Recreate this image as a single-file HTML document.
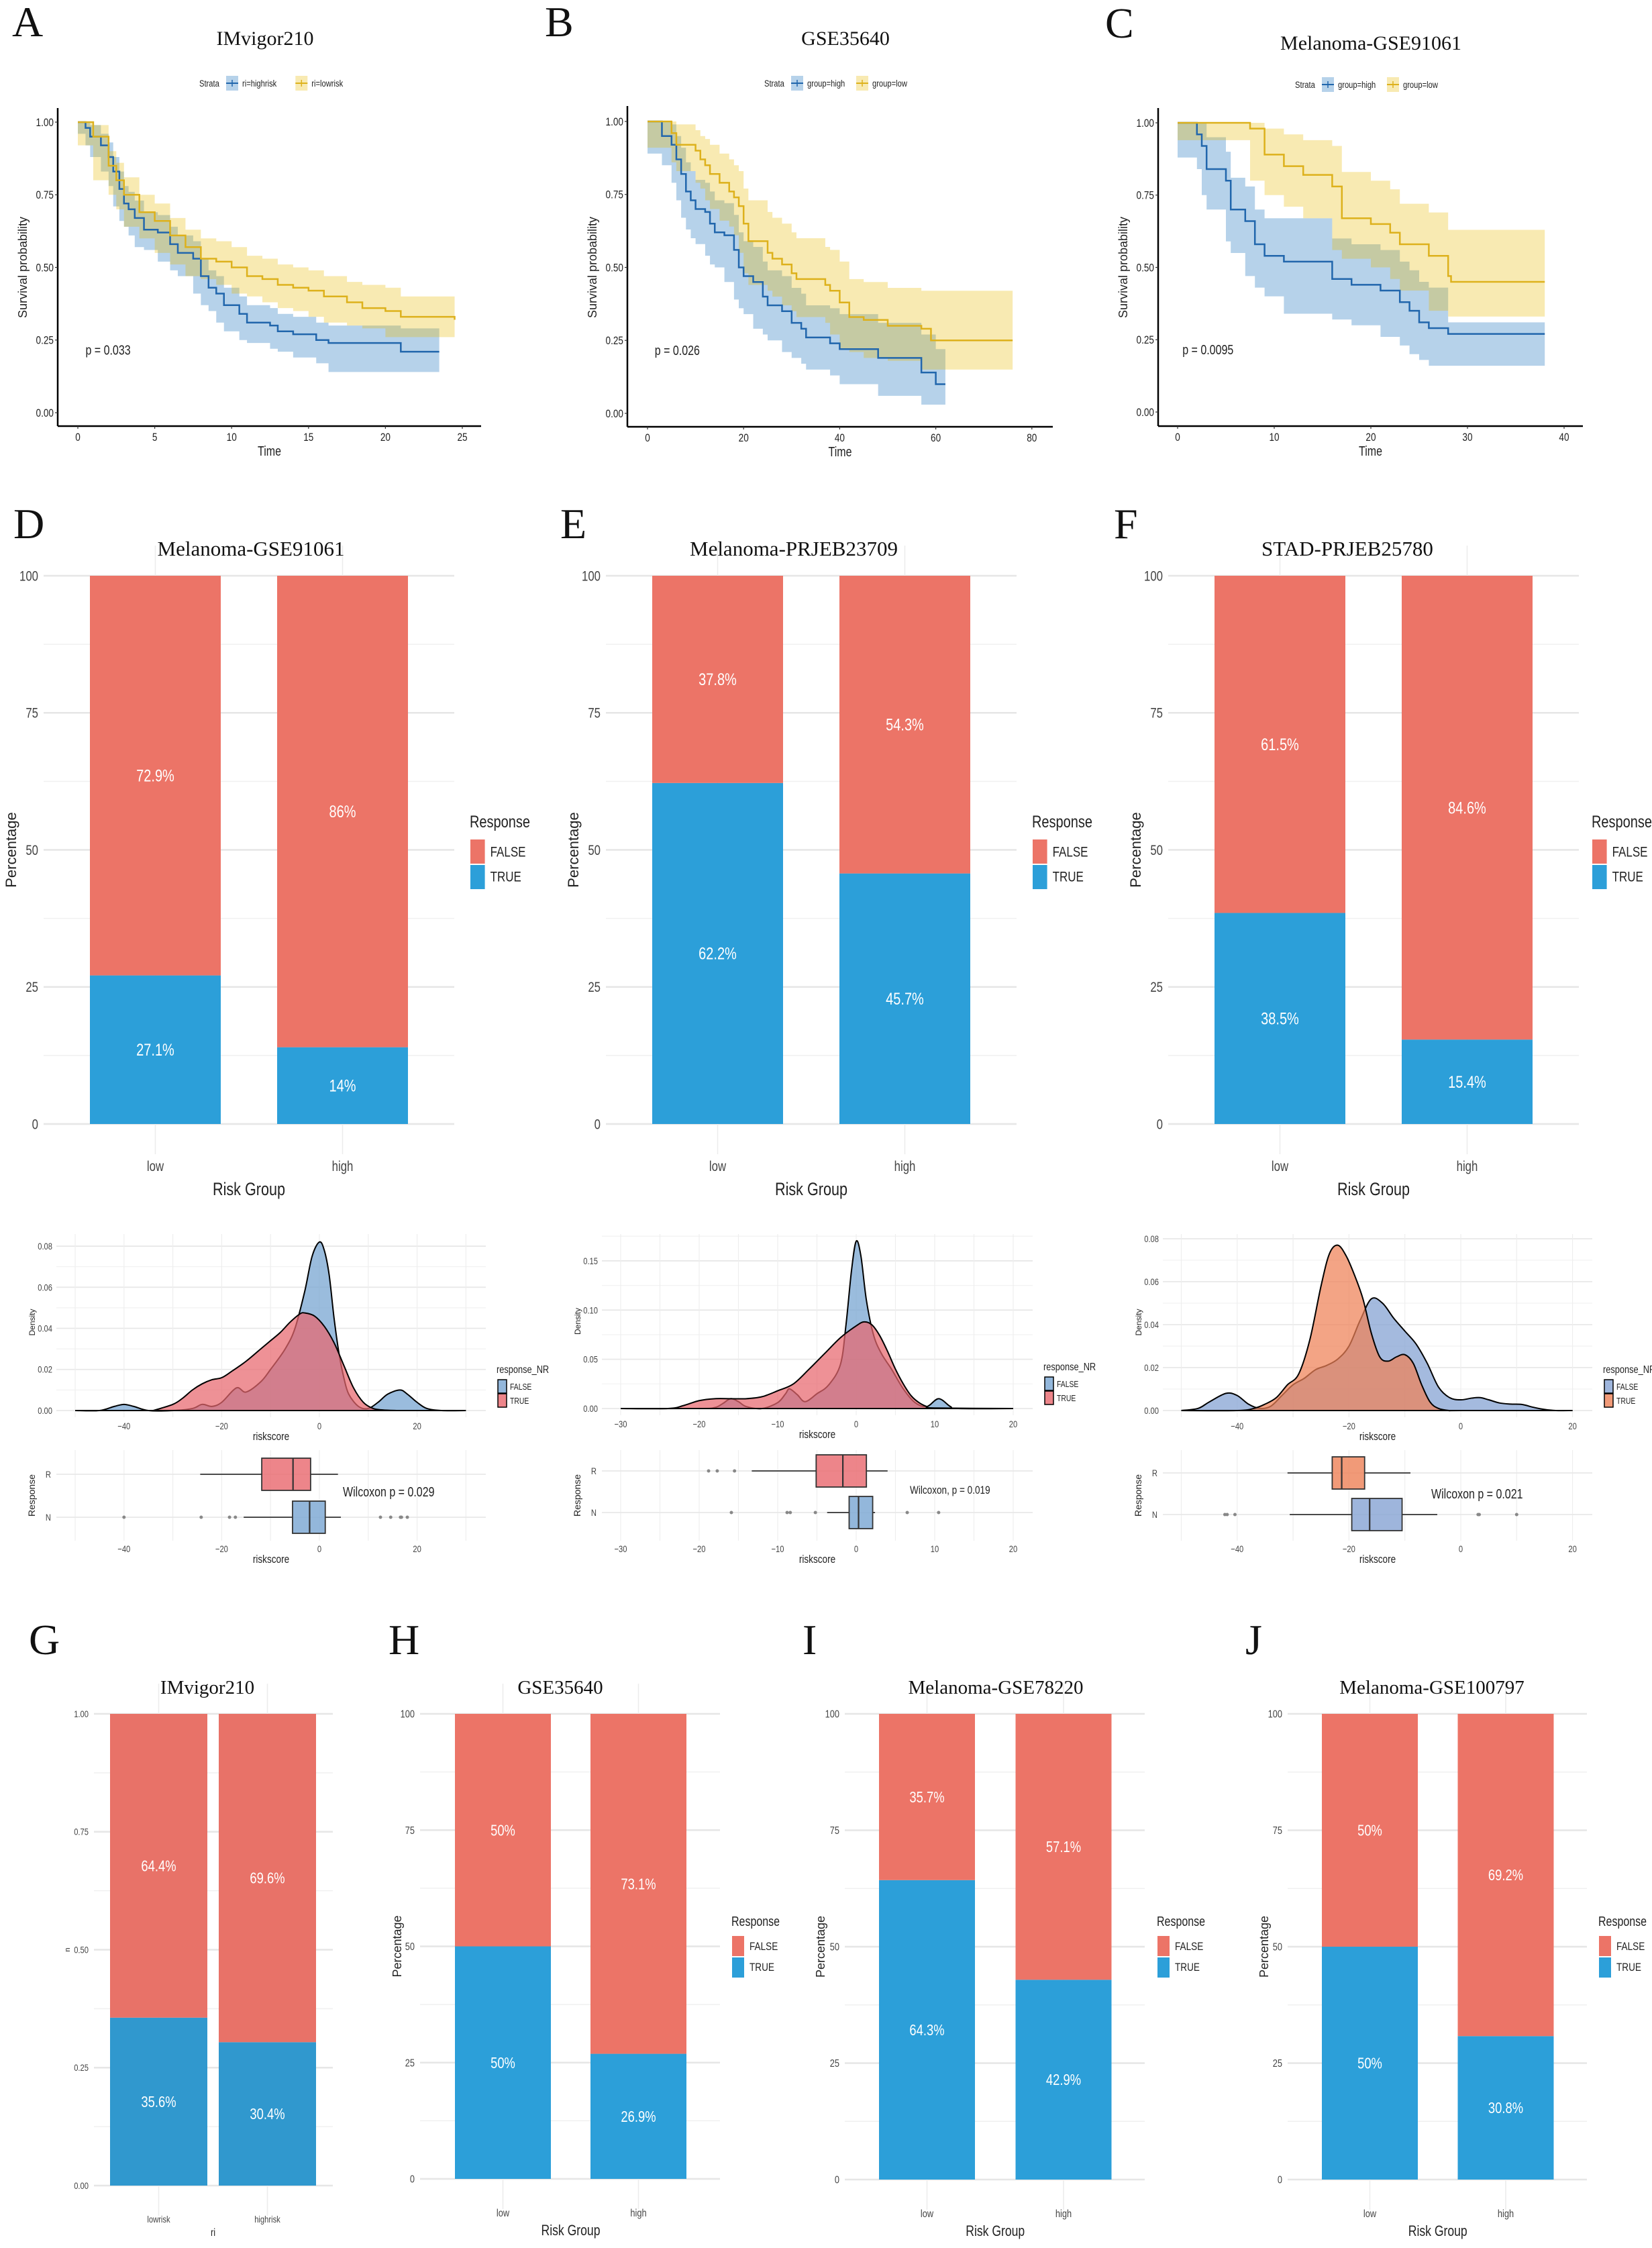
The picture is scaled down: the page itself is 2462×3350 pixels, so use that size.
<!DOCTYPE html>
<html><head><meta charset="utf-8"><title>Risk score panels</title>
<style>
html,body{margin:0;padding:0;background:#fff;}
svg{display:block;font-family:"Liberation Sans",sans-serif;}
</style></head>
<body>
<svg id="fig" xmlns="http://www.w3.org/2000/svg" width="2462" height="3350" viewBox="0 0 2462 3350"></svg>
<script>
// ---------------- KM data ----------------
const kmA_hi_t=[0,0.5,0.8,1.5,2,2.3,2.7,3,3.3,3.7,4.3,5.2,6,6.5,7.5,8,8.5,9,9.5,10.5,11,12.5,13,14,15.5,16.3,21,23.5];
const kmA_hi_s=[1,.98,.95,.92,.88,.83,.77,.72,.70,.67,.63,.62,.58,.55,.53,.47,.43,.41,.37,.34,.31,.30,.28,.27,.25,.24,.21,.21];
const kmA_hi_lo=[1,.96,.92,.88,.83,.78,.71,.66,.64,.61,.57,.56,.52,.49,.47,.41,.37,.35,.31,.28,.25,.24,.22,.21,.19,.17,.14,.14];
const kmA_hi_up=[1,1,.99,.96,.93,.88,.83,.78,.76,.73,.69,.68,.64,.61,.59,.53,.49,.47,.43,.40,.37,.36,.34,.33,.31,.30,.29,.29];
const kmA_lo_t=[0,1,2,2.5,3,4,5,6,7,8,9,10,11,12,13,14,15,16,17.5,18.5,20,21,24.5];
const kmA_lo_s=[1,.95,.85,.80,.75,.69,.66,.61,.57,.53,.52,.50,.47,.46,.44,.43,.42,.40,.38,.36,.35,.33,.32];
const kmA_lo_lo=[1,.92,.80,.75,.70,.64,.60,.55,.51,.47,.46,.44,.41,.40,.38,.36,.35,.33,.31,.30,.29,.26,.26];
const kmA_lo_up=[1,.99,.90,.86,.81,.75,.72,.67,.63,.60,.59,.57,.54,.53,.51,.50,.49,.47,.45,.44,.43,.40,.40];

const kmB_hi_t=[0,3,5,6,7,8,9,10,12,13,14,16,18,19,20,22,24,25,28,30,32,33,38,40,48,57,60,62];
const kmB_hi_s=[1,.95,.92,.87,.82,.76,.73,.70,.69,.65,.62,.61,.56,.50,.47,.45,.40,.37,.35,.31,.29,.26,.24,.22,.19,.14,.10,.10];
const kmB_hi_lo=[1,.89,.85,.79,.73,.67,.63,.60,.58,.54,.51,.50,.45,.39,.36,.34,.29,.27,.25,.21,.19,.17,.15,.13,.10,.06,.03,.03];
const kmB_hi_up=[1,1,.99,.95,.91,.86,.83,.80,.79,.76,.73,.72,.68,.62,.59,.57,.52,.49,.47,.43,.41,.37,.36,.34,.31,.27,.22,.22];
const kmB_lo_t=[0,5,6,10,11,12,13,15,17,18,19,20,21,25,26,28,30,31,37,38,40,42,45,50,57,59,76];
const kmB_lo_s=[1,.96,.92,.90,.87,.85,.82,.79,.76,.74,.71,.65,.59,.55,.53,.51,.48,.46,.44,.42,.38,.33,.32,.30,.29,.25,.25];
const kmB_lo_lo=[1,.91,.86,.83,.79,.77,.73,.70,.66,.64,.61,.55,.48,.44,.42,.40,.37,.35,.33,.31,.27,.22,.21,.19,.18,.15,.15];
const kmB_lo_up=[1,1,.99,.97,.95,.94,.92,.89,.87,.85,.83,.77,.73,.69,.67,.65,.62,.60,.57,.56,.52,.46,.45,.43,.42,.42,.42];

const kmC_hi_t=[0,2,2.5,3,5,5.5,7,8,9,11,16,18,21,23,24,25,26,28,38];
const kmC_hi_s=[1,.96,.92,.84,.80,.70,.66,.58,.54,.52,.46,.44,.42,.38,.35,.31,.29,.27,.27];
const kmC_hi_lo=[1,.88,.84,.75,.70,.59,.55,.47,.43,.40,.34,.32,.30,.26,.23,.20,.18,.16,.16];
const kmC_hi_up=[1,1,1,.95,.90,.81,.78,.70,.67,.67,.60,.58,.56,.52,.49,.45,.43,.31,.31];
const kmC_lo_t=[0,7.5,9,11,13,16,17,20,22,23,26,28,28.3,38];
const kmC_lo_s=[1,.98,.89,.85,.82,.78,.67,.65,.62,.58,.54,.47,.45,.45];
const kmC_lo_lo=[1,.94,.80,.75,.71,.67,.56,.53,.50,.46,.42,.35,.33,.33];
const kmC_lo_up=[1,1,.98,.96,.94,.92,.83,.80,.77,.72,.69,.63,.63,.63];

const kmA_xticks=[0,5,10,15,20,25];
const kmB_xticks=[0,20,40,60,80];
const kmC_xticks=[0,10,20,30,40];
const km_yticks=[0,0.25,0.5,0.75,1];
const km_ylabels=["0.00","0.25","0.50","0.75","1.00"];

// ---------------- Bar data (percent TRUE / FALSE) ----------------
const barCats=["low","high"];
const barD_true=[27.1,14];   const barD_false=[72.9,86];
const barE_true=[62.2,45.7]; const barE_false=[37.8,54.3];
const barF_true=[38.5,15.4]; const barF_false=[61.5,84.6];
const barG_cats=["lowrisk","highrisk"];
const barG_true=[35.6,30.4]; const barG_false=[64.4,69.6];
const barH_true=[50,26.9];   const barH_false=[50,73.1];
const barI_true=[64.3,42.9]; const barI_false=[35.7,57.1];
const barJ_true=[50,30.8];   const barJ_false=[50,69.2];
const bar_yticks=[0,25,50,75,100];
const barG_ylabels=["0.00","0.25","0.50","0.75","1.00"];

// ---------------- Density data ----------------
const denD_false_x=[-50,-45,-42,-40,-38,-35,-30,-26,-24,-22,-20,-17,-15,-12,-10,-7,-5,-3,-1.5,0,1,2,3,4,5,6,8,10,12,14,16.5,18,20,22,25,30];
const denD_false_y=[0,0,.002,.003,.002,0,0,.001,.003,.002,.004,.011,.009,.014,.020,.030,.040,.058,.075,.082,.078,.066,.045,.028,.016,.008,.002,.001,.004,.008,.010,.008,.004,.001,0,0];
const denD_true_x=[-34,-30,-28,-26,-24,-22,-20,-18,-15,-12,-10,-8,-6,-4,-3,-1,1,3,5,7,9,11,13,16];
const denD_true_y=[0,.003,.006,.010,.013,.015,.016,.019,.024,.030,.034,.038,.043,.047,.0475,.046,.041,.033,.022,.011,.004,.001,.0003,0];
const denE_false_x=[-30,-20,-18,-17,-16,-15,-14,-12,-10,-9,-8.5,-7.5,-6.5,-5,-3.5,-2,-1.3,-0.6,0,0.6,1.3,2.2,3.2,4.5,6,7.5,9,10.5,12,13,20];
const denE_false_y=[0,0,.001,.005,.010,.007,.002,0,.006,.015,.020,.014,.007,.015,.024,.045,.085,.14,.17,.155,.11,.075,.056,.040,.020,.006,.002,.010,.002,0,0];
const denE_true_x=[-30,-24,-22,-20,-18,-16,-14,-12,-10,-8,-6,-4,-2,0,1,2,3,4,5,6,7,8,9,10,20];
const denE_true_y=[0,0,.003,.008,.010,.010,.010,.012,.018,.025,.040,.056,.072,.084,.088,.085,.074,.058,.040,.025,.013,.006,.002,.0005,0];
const denF_false_x=[-50,-47,-45,-42,-40,-38,-36,-34,-32,-30,-28,-26,-24,-22,-20,-18,-16,-14,-12,-10,-8,-6,-4,-2,0,2,3.5,5,7,9,11,13,15,17,20];
const denF_false_y=[0,.001,.004,.008,.007,.003,.001,.002,.007,.012,.015,.019,.021,.024,.030,.042,.052,.050,.043,.037,.031,.022,.011,.006,.005,.0058,.006,.005,.0035,.003,.0028,.0015,.0005,0,0];
const denF_true_x=[-50,-40,-37,-35,-33,-31,-29,-27,-25,-23.5,-22,-20.5,-19,-17.5,-16,-14.5,-13,-11.5,-10,-8.5,-7,-5.5,-4,-2,0,20];
const denF_true_y=[0,0,.001,.003,.006,.012,.017,.033,.058,.073,.077,.072,.063,.052,.036,.025,.023,.025,.026,.022,.012,.004,.001,0,0,0];

// ---------------- Box data [whiskerLo, q1, median, q3, whiskerHi] ----------------
const boxD_R=[-24.4,-11.8,-5.4,-1.8,3.8];   const boxD_N=[-15.5,-5.5,-2.0,1.2,4.4];
const boxD_R_out=[];                         const boxD_N_out=[-40,-24.2,-18.4,-17.2,12.5,14.6,16.6,16.8,18];
const boxE_R=[-13.3,-5.1,-1.7,1.3,4.0];     const boxE_N=[-3.7,-0.9,0.3,2.1,2.4];
const boxE_R_out=[-18.8,-17.7,-15.5];        const boxE_N_out=[-15.9,-8.8,-8.4,-5.2,6.5,10.5];
const boxF_R=[-31,-23,-21.3,-17.2,-9];       const boxF_N=[-30.6,-19.5,-16.3,-10.5,-4.2];
const boxF_R_out=[];                         const boxF_N_out=[-42.2,-41.8,-40.4,3.1,3.3,10];

// ---------------- helpers ----------------
const NS="http://www.w3.org/2000/svg";
const svg=document.getElementById('fig');
function mk(tag,attrs,name,parent){
  const e=document.createElementNS(NS,tag);
  for(const k in attrs){e.setAttribute(k,attrs[k]);}
  
  
  (parent||svg).appendChild(e);
  return e;
}
function txt(x,y,s,size,name,opt){
  opt=opt||{};
  const a={x:x,y:y,'font-size':size,fill:opt.fill||'#222','text-anchor':opt.anchor||'start'};
  if(opt.serif){a['font-family']='"Liberation Serif",serif';}
  let sx=opt.sx;
  if(sx===undefined){sx=(opt.serif||opt.rot)?1:0.8;}
  if(opt.rot){a.transform='rotate(-90 '+x+' '+y+')';}
  else if(sx!==1){a.transform='translate('+x+' '+y+') scale('+sx+' 1) translate('+(-x)+' '+(-y)+')';}
  const t=mk('text',a,name,opt.parent);
  t.textContent=s;
  return t;
}
function smooth(pts){
  let d='M'+pts[0][0]+','+pts[0][1];
  for(let i=0;i<pts.length-1;i++){
    const p0=pts[i-1]||pts[i],p1=pts[i],p2=pts[i+1],p3=pts[i+2]||p2;
    const c1x=p1[0]+(p2[0]-p0[0])/6,c1y=p1[1]+(p2[1]-p0[1])/6;
    const c2x=p2[0]-(p3[0]-p1[0])/6,c2y=p2[1]-(p3[1]-p1[1])/6;
    d+=' C'+c1x+','+c1y+' '+c2x+','+c2y+' '+p2[0]+','+p2[1];
  }
  return d;
}

// ---------------- panel letters ----------------
const letters=[['A',18,54],['B',812,54],['C',1647,56],['D',20,802],['E',835,802],['F',1660,802],['G',43,2465],['H',579,2465],['I',1196,2465],['J',1856,2465]];
letters.forEach(l=>{txt(l[1],l[2],l[0],64,'panel-letter-'+l[0].toLowerCase(),{serif:true,fill:'#111'});});

// ---------------- KM panels ----------------
function kmPanel(cfg){
  const g=mk('g',{},'km-panel-'+cfg.id);
  const X=v=>cfg.x0+v*cfg.kx;
  const Y=v=>cfg.yb+(cfg.yt-cfg.yb)*v;
  txt(cfg.titleX,cfg.titleY,cfg.title,30,'chart-title',{serif:true,anchor:'middle',parent:g,fill:'#111'});
  const ly=cfg.legY;
  txt(cfg.legX,ly+5,'Strata',14,'legend-title',{parent:g});
  const cols=[['#2166AC','rgba(46,126,196,0.35)'],['#DDB11C','rgba(231,184,0,0.3)']];
  let lx=cfg.legX+40;
  cfg.legLabels.forEach((lab,i)=>{
    mk('rect',{x:lx,y:ly-11,width:18,height:22,fill:cols[i][1]},'legend-key-'+i,g);
    mk('line',{x1:lx,x2:lx+18,y1:ly,y2:ly,stroke:cols[i][0],'stroke-width':2},'legend-key-line-'+i,g);
    mk('line',{x1:lx+9,x2:lx+9,y1:ly-5,y2:ly+5,stroke:cols[i][0],'stroke-width':1.5},'legend-key-tick-'+i,g);
    txt(lx+24,ly+5,lab,14,'legend-label-'+i,{parent:g});
    lx+=24+lab.length*6.3+10;
  });
  cfg.series.forEach((s,si)=>{
    let d='M'+X(s.t[0])+','+Y(s.up[0]);
    for(let i=1;i<s.t.length;i++){d+=' H'+X(s.t[i])+' V'+Y(s.up[i]);}
    for(let i=s.t.length-1;i>=1;i--){d+=' V'+Y(s.lo[i])+' H'+X(s.t[i-1]);}
    d+=' V'+Y(s.lo[0])+' Z';
    mk('path',{d:d,fill:cols[si][1],stroke:'none'},'ci-band-'+s.name,g);
  });
  cfg.series.forEach((s,si)=>{
    let d='M'+X(s.t[0])+','+Y(s.s[0]);
    for(let i=1;i<s.t.length;i++){d+=' H'+X(s.t[i])+' V'+Y(s.s[i]);}
    mk('path',{d:d,fill:'none',stroke:cols[si][0],'stroke-width':2.5},'survival-curve-'+s.name,g);
  });
  mk('line',{x1:cfg.ax,x2:cfg.ax,y1:cfg.axTop,y2:cfg.ay,stroke:'#000','stroke-width':2.5},'y-axis-line',g);
  mk('line',{x1:cfg.ax,x2:cfg.axRight,y1:cfg.ay,y2:cfg.ay,stroke:'#000','stroke-width':2.5},'x-axis-line',g);
  km_yticks.forEach((v,i)=>{
    mk('line',{x1:cfg.ax-4,x2:cfg.ax,y1:Y(v),y2:Y(v),stroke:'#333','stroke-width':1.2},'y-tick',g);
    txt(cfg.ax-6,Y(v)+6,km_ylabels[i],17,'y-tick-label',{anchor:'end',parent:g});
  });
  cfg.xticks.forEach(v=>{
    mk('line',{x1:X(v),x2:X(v),y1:cfg.ay,y2:cfg.ay+4,stroke:'#333','stroke-width':1.2},'x-tick',g);
    txt(X(v),cfg.ay+22,String(v),17,'x-tick-label',{anchor:'middle',parent:g});
  });
  txt((cfg.ax+cfg.axRight)/2,cfg.ay+44,'Time',20,'x-axis-title',{anchor:'middle',parent:g});
  txt(cfg.ax-46,(cfg.yt+cfg.yb)/2,'Survival probability',18,'y-axis-title',{anchor:'middle',rot:true,parent:g});
  txt(X(cfg.pX),Y(0.2),cfg.p,20,'p-value-label',{parent:g});
}
kmPanel({id:'a',title:'IMvigor210',titleX:395,titleY:67,legX:297,legY:124,legLabels:['ri=highrisk','ri=lowrisk'],
  x0:116,kx:22.92,yt:182,yb:615,ax:86,ay:635,axTop:161,axRight:717,xticks:kmA_xticks,p:'p = 0.033',pX:0.5,
  series:[{name:'highrisk',t:kmA_hi_t,s:kmA_hi_s,lo:kmA_hi_lo,up:kmA_hi_up},{name:'lowrisk',t:kmA_lo_t,s:kmA_lo_s,lo:kmA_lo_lo,up:kmA_lo_up}]});
kmPanel({id:'b',title:'GSE35640',titleX:1260,titleY:67,legX:1139,legY:124,legLabels:['group=high','group=low'],
  x0:965,kx:7.16,yt:181,yb:616,ax:935,ay:636,axTop:158,axRight:1569,xticks:kmB_xticks,p:'p = 0.026',pX:1.5,
  series:[{name:'high',t:kmB_hi_t,s:kmB_hi_s,lo:kmB_hi_lo,up:kmB_hi_up},{name:'low',t:kmB_lo_t,s:kmB_lo_s,lo:kmB_lo_lo,up:kmB_lo_up}]});
kmPanel({id:'c',title:'Melanoma-GSE91061',titleX:2043,titleY:74,legX:1930,legY:126,legLabels:['group=high','group=low'],
  x0:1755,kx:14.4,yt:183,yb:614,ax:1726,ay:635,axTop:161,axRight:2359,xticks:kmC_xticks,p:'p = 0.0095',pX:0.5,
  series:[{name:'high',t:kmC_hi_t,s:kmC_hi_s,lo:kmC_hi_lo,up:kmC_hi_up},{name:'low',t:kmC_lo_t,s:kmC_lo_s,lo:kmC_lo_lo,up:kmC_lo_up}]});

// ---------------- Bar panels ----------------
const RED='#EC7467',BLUE='#2C9FD9';
function barPanel(cfg){
  const g=mk('g',{},'bar-panel-'+cfg.id);
  const Y=v=>cfg.yb+(cfg.yt-cfg.yb)*v/100;
  const bw=cfg.bw, fs=cfg.fs;
  [12.5,37.5,62.5,87.5].forEach(v=>mk('line',{x1:cfg.gx1,x2:cfg.gx2,y1:Y(v),y2:Y(v),stroke:'#f0f0f0','stroke-width':1.5},'grid-minor',g));
  bar_yticks.forEach(v=>mk('line',{x1:cfg.gx1,x2:cfg.gx2,y1:Y(v),y2:Y(v),stroke:'#e6e6e6','stroke-width':2.5},'grid-major',g));
  cfg.cx.forEach(c=>mk('line',{x1:c,x2:c,y1:cfg.yt-45,y2:cfg.yb+45,stroke:'#ececec','stroke-width':1.5},'grid-vertical',g));
  txt(cfg.titleX,cfg.yt-30,cfg.title,cfg.tfs,'chart-title',{serif:true,anchor:'middle',parent:g,fill:'#111'});
  cfg.cats.forEach((cat,i)=>{
    const c=cfg.cx[i],t=cfg.tr[i],f=cfg.fa[i];
    mk('rect',{x:c-bw/2,y:Y(t),width:bw,height:Y(0)-Y(t),fill:cfg.blue||BLUE},'bar-true-'+cat,g);
    mk('rect',{x:c-bw/2,y:Y(100),width:bw,height:Y(t)-Y(100),fill:cfg.red||RED},'bar-false-'+cat,g);
    txt(c,Y(t/2)+fs*0.35,t+'%',fs,'bar-label-true-'+cat,{anchor:'middle',fill:'#fff',parent:g});
    txt(c,Y(t+f/2)+fs*0.35,f+'%',fs,'bar-label-false-'+cat,{anchor:'middle',fill:'#fff',parent:g});
    txt(c,cfg.yb+cfg.catDy,cat,cfg.tk,'x-tick-label',{anchor:'middle',parent:g,fill:'#444'});
  });
  bar_yticks.forEach((v,i)=>txt(cfg.gx1-8,Y(v)+cfg.tk*0.35,cfg.ylabels?cfg.ylabels[i]:String(v),cfg.tk,'y-tick-label',{anchor:'end',parent:g,fill:'#444'}));
  txt((cfg.cx[0]+cfg.cx[1])/2,cfg.yb+cfg.catDy+cfg.xtDy,cfg.xtitle,cfg.xtfs,'x-axis-title',{anchor:'middle',parent:g});
  txt(cfg.ytX,(cfg.yt+cfg.yb)/2,cfg.ytitle,cfg.ytfs,'y-axis-title',{anchor:'middle',rot:true,parent:g});
  if(cfg.legX){
    const lg=mk('g',{},'legend',g);
    const ly=cfg.legY;
    txt(cfg.legX,ly,'Response',cfg.lfs,'legend-title',{parent:lg});
    mk('rect',{x:cfg.legX+1,y:ly+cfg.lk*0.5,width:cfg.lk*0.6,height:cfg.lk,fill:RED},'legend-key-false',lg);
    mk('rect',{x:cfg.legX+1,y:ly+cfg.lk*1.5+2,width:cfg.lk*0.6,height:cfg.lk,fill:BLUE},'legend-key-true',lg);
    txt(cfg.legX+cfg.lk*0.6+9,ly+cfg.lk*1.0+cfg.lfs*0.3,'FALSE',cfg.lfs*0.85,'legend-label-false',{parent:lg});
    txt(cfg.legX+cfg.lk*0.6+9,ly+cfg.lk*2.0+cfg.lfs*0.35,'TRUE',cfg.lfs*0.85,'legend-label-true',{parent:lg});
  }
}
const midBase={yt:858,yb:1675,bw:195,fs:25,tfs:31,tk:21,catDy:70,xtDy:36,xtitle:'Risk Group',xtfs:27,ytitle:'Percentage',ytfs:22,lfs:25,lk:36,cats:barCats,legY:1233};
barPanel(Object.assign({},midBase,{id:'d',title:'Melanoma-GSE91061',titleX:374,cx:[231.5,510.5],gx1:65,gx2:677,ytX:24,legX:700,tr:barD_true,fa:barD_false}));
barPanel(Object.assign({},midBase,{id:'e',title:'Melanoma-PRJEB23709',titleX:1183,cx:[1069.5,1348.5],gx1:903,gx2:1515,ytX:862,legX:1538,tr:barE_true,fa:barE_false}));
barPanel(Object.assign({},midBase,{id:'f',title:'STAD-PRJEB25780',titleX:2008,cx:[1907.5,2186.5],gx1:1741,gx2:2353,ytX:1700,legX:2372,tr:barF_true,fa:barF_false}));
const botBase={yt:2554,yb:3250,bw:143,fs:23,tfs:29,tk:16,catDy:56,xtDy:28,xtitle:'Risk Group',xtfs:22,ytitle:'Percentage',ytfs:18,lfs:20,lk:30,cats:barCats,legY:2870};
barPanel(Object.assign({},botBase,{id:'g',title:'IMvigor210',titleX:309,yb:3257,bw:145,cx:[236.5,398.5],gx1:140,gx2:496,ytX:104,ytitle:'n',ytfs:11,xtitle:'ri',xtfs:16,tk:14,catDy:55,xtDy:20,ylabels:barG_ylabels,cats:barG_cats,tr:barG_true,fa:barG_false,red:'#E87268',blue:'#3098CE'}));
barPanel(Object.assign({},botBase,{id:'h',title:'GSE35640',titleX:835,yb:3247,cx:[749.5,951.5],gx1:626,gx2:1073,ytX:598,legX:1090,tr:barH_true,fa:barH_false}));
barPanel(Object.assign({},botBase,{id:'i',title:'Melanoma-GSE78220',titleX:1484,yb:3248,cx:[1381.5,1585],gx1:1259,gx2:1706,ytX:1229,legX:1724,tr:barI_true,fa:barI_false}));
barPanel(Object.assign({},botBase,{id:'j',title:'Melanoma-GSE100797',titleX:2134,yb:3248,cx:[2041.5,2244],gx1:1919,gx2:2365,ytX:1890,legX:2382,tr:barJ_true,fa:barJ_false}));

// ---------------- Density + box panels ----------------
function densPanel(cfg){
  const g=mk('g',{},'density-panel-'+cfg.id);
  const X=v=>cfg.x0+v*cfg.kx;
  const Y=v=>cfg.y0-v*cfg.ky;
  cfg.yminor.forEach(v=>mk('line',{x1:cfg.gx1,x2:cfg.gx2,y1:Y(v),y2:Y(v),stroke:'#f2f2f2','stroke-width':1.2},'grid-minor',g));
  cfg.yticks.forEach(v=>mk('line',{x1:cfg.gx1,x2:cfg.gx2,y1:Y(v),y2:Y(v),stroke:'#e8e8e8','stroke-width':1.8},'grid-major',g));
  cfg.xgrid.forEach(v=>{
    mk('line',{x1:X(v),x2:X(v),y1:cfg.gTop,y2:cfg.y0+10,stroke:'#eeeeee','stroke-width':1.2},'grid-vertical',g);
    mk('line',{x1:X(v),x2:X(v),y1:cfg.bTop,y2:cfg.bBot,stroke:'#eeeeee','stroke-width':1.2},'grid-vertical-box',g);
  });
  const fPts=cfg.fx.map((v,i)=>[X(v),Y(cfg.fy[i])]);
  const tPts=cfg.tx.map((v,i)=>[X(v),Y(cfg.ty[i])]);
  const fd=smooth(fPts), td=smooth(tPts);
  mk('path',{d:fd+' L'+X(cfg.fx[cfg.fx.length-1])+','+Y(0)+' L'+X(cfg.fx[0])+','+Y(0)+' Z',fill:cfg.fcol,'fill-opacity':0.75,stroke:'#000','stroke-width':2},'density-false',g);
  mk('path',{d:td+' L'+X(cfg.tx[cfg.tx.length-1])+','+Y(0)+' L'+X(cfg.tx[0])+','+Y(0)+' Z',fill:cfg.tcol,'fill-opacity':0.72,stroke:'#000','stroke-width':2},'density-true',g);
  cfg.yticks.forEach((v,i)=>txt(cfg.gx1-6,Y(v)+5,cfg.ylabels[i],14,'y-tick-label',{anchor:'end',parent:g,fill:'#444'}));
  cfg.xticks.forEach(v=>{
    txt(X(v),cfg.y0+28,String(v).replace('-','−'),14,'x-tick-label',{anchor:'middle',parent:g,fill:'#444'});
    txt(X(v),cfg.bBot+17,String(v).replace('-','−'),14,'x-tick-label-box',{anchor:'middle',parent:g,fill:'#444'});
  });
  txt((cfg.gx1+cfg.gx2)/2,cfg.y0+44,'riskscore',17,'x-axis-title',{anchor:'middle',parent:g});
  txt((cfg.gx1+cfg.gx2)/2,cfg.bBot+33,'riskscore',17,'x-axis-title-box',{anchor:'middle',parent:g});
  txt(cfg.gx1-32,(cfg.gTop+cfg.y0)/2,'Density',12,'y-axis-title',{anchor:'middle',rot:true,parent:g});
  txt(cfg.gx1-32,(cfg.bTop+cfg.bBot)/2,'Response',14,'y-axis-title-box',{anchor:'middle',rot:true,parent:g});
  const lx=cfg.legX,ly=cfg.legY;
  txt(lx,ly,'response_NR',16,'legend-title',{parent:g});
  mk('rect',{x:lx+2,y:ly+10,width:13,height:20,fill:cfg.fcol,'fill-opacity':0.8,stroke:'#000','stroke-width':1.5},'legend-key-false',g);
  mk('rect',{x:lx+2,y:ly+31,width:13,height:20,fill:cfg.tcol,'fill-opacity':0.8,stroke:'#000','stroke-width':1.5},'legend-key-true',g);
  txt(lx+20,ly+25,'FALSE',13,'legend-label-false',{parent:g});
  txt(lx+20,ly+46,'TRUE',13,'legend-label-true',{parent:g});
  [['R',cfg.rY,cfg.boxR,cfg.outR,cfg.tcol],['N',cfg.nY,cfg.boxN,cfg.outN,cfg.fcol]].forEach(r=>{
    const y=r[1],b=r[2];
    mk('line',{x1:cfg.gx1,x2:cfg.gx2,y1:y,y2:y,stroke:'#e8e8e8','stroke-width':1.8},'grid-row-'+r[0],g);
    txt(cfg.gx1-8,y+5,r[0],14,'y-tick-label-box',{anchor:'end',parent:g,fill:'#444'});
    mk('line',{x1:X(b[0]),x2:X(b[1]),y1:y,y2:y,stroke:'#333','stroke-width':1.8},'whisker-low-'+r[0],g);
    mk('line',{x1:X(b[3]),x2:X(b[4]),y1:y,y2:y,stroke:'#333','stroke-width':1.8},'whisker-high-'+r[0],g);
    mk('rect',{x:X(b[1]),y:y-24,width:X(b[3])-X(b[1]),height:48,fill:r[4],'fill-opacity':0.8,stroke:'#333','stroke-width':1.8},'box-'+r[0],g);
    mk('line',{x1:X(b[2]),x2:X(b[2]),y1:y-24,y2:y+24,stroke:'#333','stroke-width':2.2},'median-'+r[0],g);
    r[3].forEach(o=>mk('circle',{cx:X(o),cy:y,r:2.5,fill:'#888'},'outlier-'+r[0],g));
  });
  txt(cfg.wX,cfg.wY,cfg.wText,cfg.wfs,'wilcoxon-label',{parent:g});
}
densPanel({id:'d',x0:476,kx:7.28,y0:2102,ky:3062,gx1:84,gx2:724,gTop:1839,bTop:2161,bBot:2296,
  yticks:[0,.02,.04,.06,.08],ylabels:['0.00','0.02','0.04','0.06','0.08'],yminor:[.01,.03,.05,.07],
  xticks:[-40,-20,0,20],xgrid:[-50,-40,-30,-20,-10,0,10,20,30],
  fx:denD_false_x,fy:denD_false_y,tx:denD_true_x,ty:denD_true_y,fcol:'#78A5D2',tcol:'#E8676D',
  legX:740,legY:2046,rY:2197,nY:2261,boxR:boxD_R,boxN:boxD_N,outR:boxD_R_out,outN:boxD_N_out,
  wX:511,wY:2230,wText:'Wilcoxon p = 0.029',wfs:20});
densPanel({id:'e',x0:1276,kx:11.7,y0:2099,ky:1467,gx1:897,gx2:1539,gTop:1839,bTop:2161,bBot:2296,
  yticks:[0,.05,.10,.15],ylabels:['0.00','0.05','0.10','0.15'],yminor:[.025,.075,.125,.175],
  xticks:[-30,-20,-10,0,10,20],xgrid:[-30,-25,-20,-15,-10,-5,0,5,10,15,20],
  fx:denE_false_x,fy:denE_false_y,tx:denE_true_x,ty:denE_true_y,fcol:'#78A5D2',tcol:'#E8676D',
  legX:1555,legY:2042,rY:2192,nY:2254,boxR:boxE_R,boxN:boxE_N,outR:boxE_R_out,outN:boxE_N_out,
  wX:1356,wY:2226,wText:'Wilcoxon, p = 0.019',wfs:17});
densPanel({id:'f',x0:2177,kx:8.33,y0:2102,ky:3200,gx1:1733,gx2:2373,gTop:1839,bTop:2161,bBot:2296,
  yticks:[0,.02,.04,.06,.08],ylabels:['0.00','0.02','0.04','0.06','0.08'],yminor:[.01,.03,.05,.07],
  xticks:[-40,-20,0,20],xgrid:[-50,-40,-30,-20,-10,0,10,20],
  fx:denF_false_x,fy:denF_false_y,tx:denF_true_x,ty:denF_true_y,fcol:'#86A3D3',tcol:'#EE8156',
  legX:2389,legY:2046,rY:2195,nY:2257,boxR:boxF_R,boxN:boxF_N,outR:boxF_R_out,outN:boxF_N_out,
  wX:2133,wY:2233,wText:'Wilcoxon p = 0.021',wfs:20});
</script>
</body></html>
